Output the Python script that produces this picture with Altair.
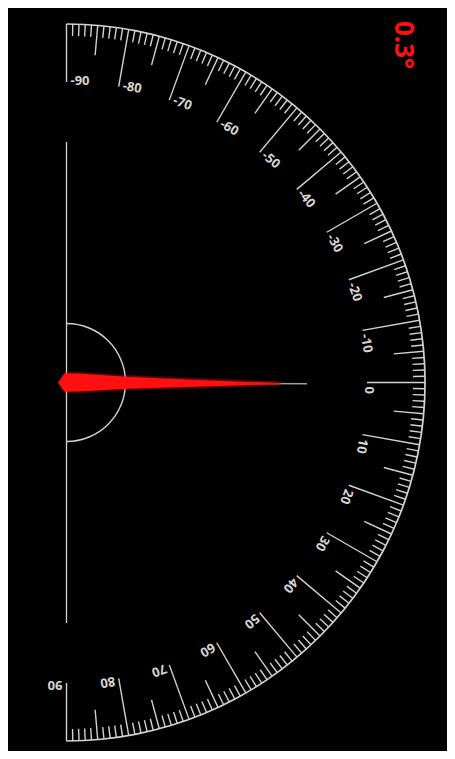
import math
import altair as alt
import pandas as pd

# ---------------- data ----------------
tick_degrees = list(range(-90, 91))            # one tick per degree
label_degrees = list(range(-90, 91, 10))       # labelled degrees
label_texts = [str(d) for d in label_degrees]
needle_angle = 0.3                             # current reading (degrees)
reading_text = "0.3°"

# ---------------- geometry / style ----------------
W, H = 439, 743            # drawing area (page pixels from 8,8)
CX, CY, R = 66.5, 382.5, 358.5
L10, L5, L1 = 58, 30, 12   # tick lengths
BASE_HALF = 240.5          # half length of the diameter line
INNER_R = 59
LABEL_R = 302
NEEDLE_LEN = 240.5
TICK = "#d2d2d2"
RED = "#ff1010"

xs = alt.Scale(domain=[8, 8 + W], range=[0, W], nice=False, zero=False)
ys = alt.Scale(domain=[8, 8 + H], range=[0, H], nice=False, zero=False)


def X(f):
    return alt.X(f, type="quantitative", scale=xs, axis=None)


def Y(f):
    return alt.Y(f, type="quantitative", scale=ys, axis=None)


def XD(v):
    return alt.XDatum(v, type="quantitative", scale=xs, axis=None)


def YD(v):
    return alt.YDatum(v, type="quantitative", scale=ys, axis=None)


one = alt.Data(values=[{"k": 0}])

# ticks
ticks = (
    alt.Chart(pd.DataFrame({"deg": tick_degrees}))
    .transform_calculate(
        L=f"datum.deg % 10 == 0 ? {L10} : (datum.deg % 5 == 0 ? {L5} : {L1})",
        a="datum.deg * PI / 180",
    )
    .transform_calculate(
        x0=f"{CX} + {R} * cos(datum.a)",
        y0=f"{CY} + {R} * sin(datum.a)",
        x1=f"{CX} + ({R} - datum.L) * cos(datum.a)",
        y1=f"{CY} + ({R} - datum.L) * sin(datum.a)",
    )
    .mark_rule(color=TICK, strokeWidth=1.4)
    .encode(x=X("x0"), y=Y("y0"), x2="x1:Q", y2="y1:Q")
)

# outer arc
outer = (
    alt.Chart(one)
    .mark_arc(radius=R + 0.8, radius2=R - 0.8, theta=0, theta2=math.pi, color=TICK)
    .encode(x=XD(CX), y=YD(CY))
)

# inner semicircle
inner = (
    alt.Chart(one)
    .mark_arc(radius=INNER_R + 0.7, radius2=INNER_R - 0.7, theta=0, theta2=math.pi, color=TICK)
    .encode(x=XD(CX), y=YD(CY))
)

# diameter line
base = (
    alt.Chart(one)
    .mark_rule(color=TICK, strokeWidth=1.3)
    .encode(x=XD(CX), y=YD(CY - BASE_HALF), y2=alt.Y2Datum(CY + BASE_HALF))
)

# labels
labels = (
    alt.Chart(pd.DataFrame({"deg": label_degrees, "txt": label_texts}))
    .transform_calculate(
        a="datum.deg * PI / 180",
        ang="datum.deg + 90",
    )
    .transform_calculate(
        lx=f"{CX} + {LABEL_R} * cos(datum.a)",
        ly=f"{CY} + {LABEL_R} * sin(datum.a)",
    )
    .mark_text(align="left", baseline="middle", dx=4, fontSize=13, fontWeight="bold",
               font="Noto Sans", color="#d6d6d6")
    .encode(x=X("lx"), y=Y("ly"), text="txt:N", angle=alt.Angle("ang:Q", scale=None))
)

# needle: outline profile (distance along the needle, full width)
prof_d = [-8.5, -2, 12, 60, 120, 170, 200, 214]
prof_w = [0, 18, 18, 12, 7.5, 4, 2, 0.8]
n = len(prof_d)
needle_df = pd.DataFrame({
    "d": prof_d + prof_d[::-1],
    "w": prof_w + prof_w[::-1],
    "side": [-1] * n + [1] * n,
    "seq": list(range(2 * n)),
    "ang": [needle_angle] * (2 * n),
})

needle_grey = (
    alt.Chart(pd.DataFrame({"ang": [needle_angle]}))
    .transform_calculate(a="datum.ang * PI / 180")
    .transform_calculate(
        x0=f"{CX}",
        y0=f"{CY}",
        x1=f"{CX} + {NEEDLE_LEN} * cos(datum.a)",
        y1=f"{CY} + {NEEDLE_LEN} * sin(datum.a)",
    )
    .mark_rule(color="#a0a0a0", strokeWidth=1.6)
    .encode(x=X("x0"), y=Y("y0"), x2="x1:Q", y2="y1:Q")
)


def needle_layer(extra, opacity):
    return (
        alt.Chart(needle_df)
        .transform_calculate(a="datum.ang * PI / 180")
        .transform_calculate(
            off=f"datum.side * (datum.w / 2 + {extra} * (datum.w > 0 ? 1 : 0))",
        )
        .transform_calculate(
            px="{0} + datum.d * cos(datum.a) - datum.off * sin(datum.a)".format(CX),
            py="{0} + datum.d * sin(datum.a) + datum.off * cos(datum.a)".format(CY),
        )
        .mark_line(filled=True, color=RED, fill=RED, strokeWidth=0, opacity=opacity)
        .encode(x=X("px"), y=Y("py"), order="seq:Q")
    )


needle_glow = needle_layer(1.8, 0.3)
needle = needle_layer(0, 1.0)

# reading
reading = (
    alt.Chart(pd.DataFrame({"t": [reading_text]}))
    .mark_text(align="left", baseline="alphabetic", angle=90, fontSize=26,
               fontWeight="bold", font="Noto Sans", color=RED)
    .encode(x=XD(395), y=YD(21), text="t:N")
)

chart = (
    alt.layer(outer, ticks, base, inner, labels, needle_grey, needle_glow, needle, reading)
    .properties(width=W, height=H, padding=0, autosize=alt.AutoSizeParams(type="none"))
    .configure(background="black")
    .configure_view(strokeWidth=0)
)

chart.save("out.html", embed_options={"renderer": "svg", "actions": False})
